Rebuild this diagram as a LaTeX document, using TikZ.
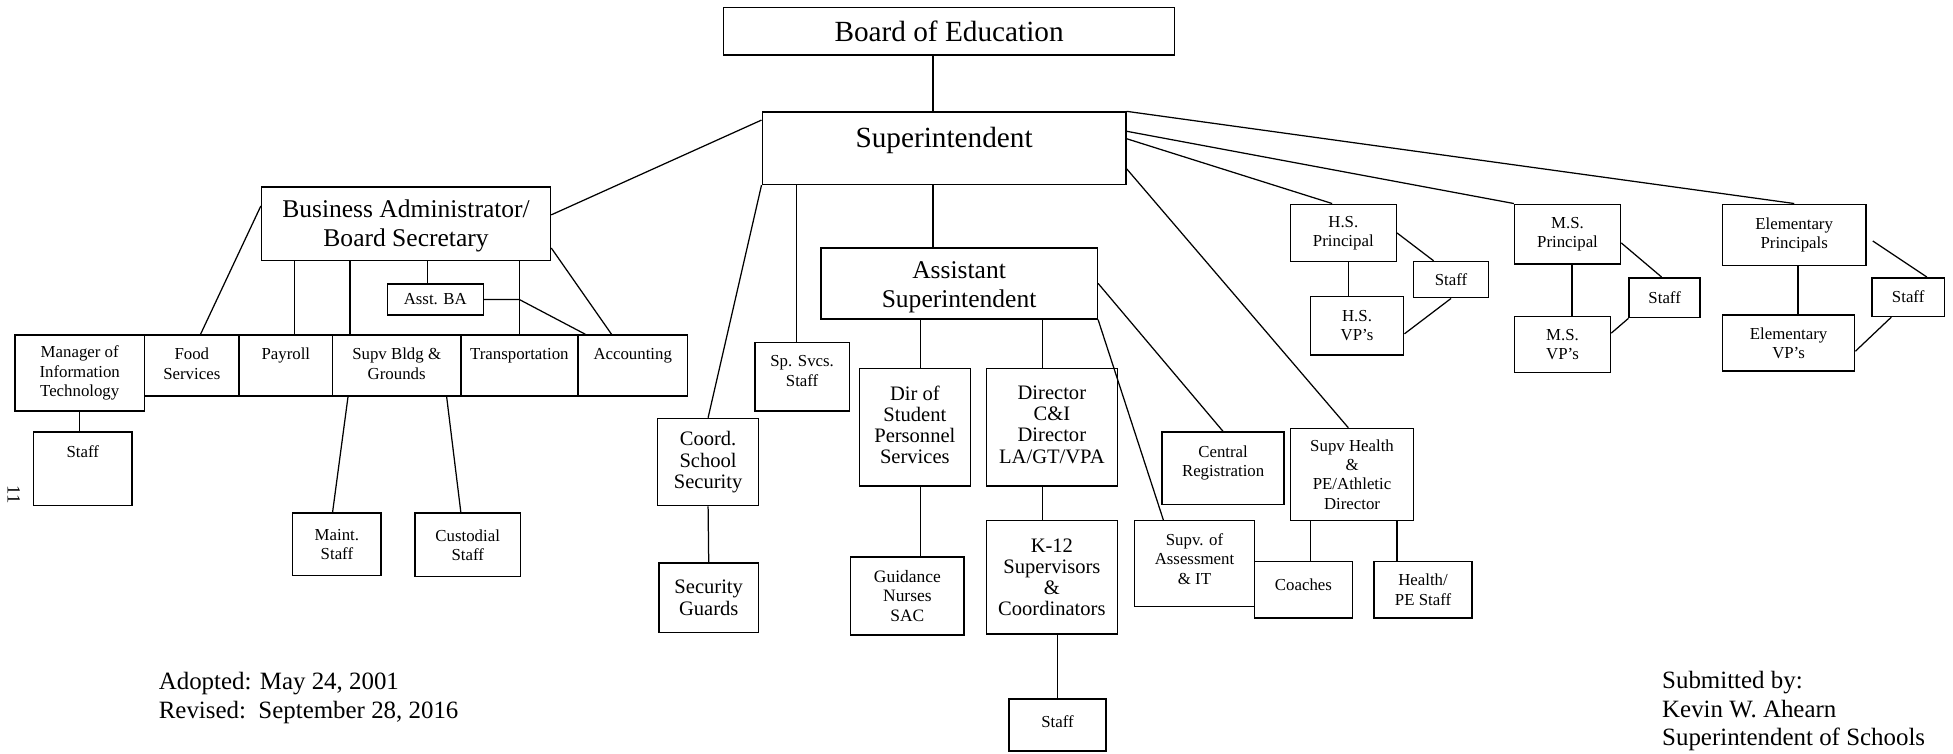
\documentclass[tikz,border=0pt]{standalone}
\usepackage{fontspec}
\setmainfont{Liberation Serif}
\usetikzlibrary{fit,positioning}

\tikzset{
  box/.style={draw, line width=1.2pt, inner sep=0pt},
  txt/.style={inner sep=0pt, align=center},
  titletxt/.style={txt, font=\fontsize{23.5}{27}\selectfont},
  headtxt/.style={txt, font=\fontsize{20.5}{23}\selectfont},
  midtxt/.style={txt, font=\fontsize{16.5}{17}\selectfont},
  smalltxt/.style={txt, font=\fontsize{13.5}{15.5}\selectfont},
  foottxt/.style={font=\fontsize{20}{23}\selectfont},
  toptext/.style={label={[smalltxt, anchor=north, yshift=-11pt]north:{#1}}},
  link/.style={line width=1pt},
}

\begin{document}
\begin{tikzpicture}[x=1pt, y=-1pt]

    \fill[white] (0,0) rectangle (1568,605);
    \useasboundingbox (0,0) rectangle (1568,605);

    % top of the chart
    \node[box, fit={(581,6) (943,44)}] (board) {};
    \node[titletxt] (boardt) at (board.center) {Board of Education};
    \node[box, fit={(612,90) (904,148)}] (supt) {};
    \node[titletxt] (suptt) at ([yshift=6pt]supt.center) {Superintendent};

    % business office
    \node[box, fit={(210,150) (442,209)}] (busadm) {};
    \node[headtxt] (busadmt) at ([yshift=-2pt]busadm.center) {Business Administrator/\\Board Secretary};
    \node[box, fit={(311,228) (388,253)}] (asstba) {};
    \node[smalltxt] (asstbat) at (asstba.center) {Asst. BA};
    \node[box, fit={(12,269) (116,330)}] (mgrit) {};
    \node[smalltxt] (mgritt) at (mgrit.center) {Manager of\\Information\\Technology};
    \node[box, fit={(116,269) (192,318)}, toptext={Food\\Services}] (food) {};
    \node[box, fit={(192,269) (267,318)}, toptext={Payroll}] (payroll) {};
    \node[box, fit={(267,269) (370,318)}, toptext={Supv Bldg \&\\Grounds}] (bldg) {};
    \node[box, fit={(370,269) (464,318)}, toptext={Transportation}] (transp) {};
    \node[box, fit={(464,269) (552,318)}, toptext={Accounting}] (acct) {};
    \node[box, fit={(27,347) (106,406)}, toptext={Staff}] (itstaff) {};
    \node[box, fit={(235,412) (306,462)}] (maint) {};
    \node[smalltxt] (maintt) at (maint.center) {Maint.\\Staff};
    \node[box, fit={(333,412) (418,463)}] (custod) {};
    \node[smalltxt] (custodt) at (custod.center) {Custodial\\Staff};
    \node[rotate=-90, font=\fontsize{15}{15}\selectfont] (pgnum) at (11,397) {11};

    % security and special services
    \node[box, fit={(528,336) (609,406)}] (security) {};
    \node[midtxt] (securityt) at (security.center) {Coord.\\School\\Security};
    \node[box, fit={(529,452) (609,508)}] (guards) {};
    \node[midtxt] (guardst) at (guards.center) {Security\\Guards};
    \node[box, fit={(606,275) (682,330)}, toptext={Sp. Svcs.\\Staff}] (spsvcs) {};

    % assistant superintendent
    \node[box, fit={(659,199) (881,256)}] (asstsupt) {};
    \node[headtxt] (asstsuptt) at ([yshift=-3pt]asstsupt.center) {Assistant\\Superintendent};
    \node[box, fit={(690,296) (779,390)}] (studpers) {};
    \node[midtxt] (studperst) at ([yshift=2pt]studpers.center) {Dir of\\Student\\Personnel\\Services};
    \node[box, fit={(792,296) (897,390)}] (curric) {};
    \node[midtxt] (currict) at ([yshift=2pt]curric.center) {Director\\C\&I\\Director\\LA/GT/VPA};
    \node[box, fit={(683,447) (774,510)}] (guidance) {};
    \node[txt, font=\fontsize{14}{15.5}\selectfont] (guidancet) at (guidance.center) {Guidance\\Nurses\\SAC};
    \node[box, fit={(792,418) (897,509)}] (k12) {};
    \node[midtxt] (k12t) at (k12.center) {K-12\\Supervisors\\\&\\Coordinators};
    \node[box, fit={(810,561) (888,603)}] (k12staff) {};
    \node[smalltxt] (k12stafft) at ([yshift=3pt]k12staff.center) {Staff};
    \node[box, fit={(933,347) (1031,405)}, toptext={Central\\Registration}] (centreg) {};
    \node[box, fit={(911,418) (1007,487)}, toptext={Supv. of\\Assessment\\\& IT}] (assess) {};

    % health and athletics
    \node[box, fit={(1036,344) (1135,418)}] (health) {};
    \node[smalltxt] (healtht) at (health.center) {Supv Health\\\&\\PE/Athletic\\Director};
    \node[box, fit={(1007,451) (1086,496)}] (coaches) {};
    \node[smalltxt] (coachest) at ([yshift=4pt]coaches.center) {Coaches};
    \node[box, fit={(1103,451) (1182,496)}] (pestaff) {};
    \node[smalltxt] (pestafft) at (pestaff.center) {Health/\\PE Staff};

    % schools
    \node[box, fit={(1036,164) (1121,210)}] (hsprin) {};
    \node[smalltxt] (hsprint) at (hsprin.center) {H.S.\\Principal};
    \node[box, fit={(1135,210) (1195,239)}] (hsstaff) {};
    \node[smalltxt] (hsstafft) at (hsstaff.center) {Staff};
    \node[box, fit={(1052,238) (1127,285)}] (hsvp) {};
    \node[smalltxt] (hsvpt) at (hsvp.center) {H.S.\\VP's};
    \node[box, fit={(1216,164) (1301,212)}] (msprin) {};
    \node[smalltxt] (msprint) at (msprin.center) {M.S.\\Principal};
    \node[box, fit={(1308,223) (1365,255)}] (msstaff) {};
    \node[smalltxt] (msstafft) at (msstaff.center) {Staff};
    \node[box, fit={(1216,254) (1293,299)}] (msvp) {};
    \node[smalltxt] (msvpt) at (msvp.center) {M.S.\\VP's};
    \node[box, fit={(1383,164) (1498,213)}] (elprin) {};
    \node[smalltxt] (elprint) at (elprin.center) {Elementary\\Principals};
    \node[box, fit={(1503,223) (1561,254)}] (elstaff) {};
    \node[smalltxt] (elstafft) at (elstaff.center) {Staff};
    \node[box, fit={(1383,253) (1489,298)}] (elvp) {};
    \node[smalltxt] (elvpt) at (elvp.center) {Elementary\\VP's};

    % footer
    \node[foottxt, align=left, anchor=west] (dates) at (124,560.5) {Adopted: May 24, 2001\\Revised:\ \ September 28, 2016};
    \node[foottxt, align=left, anchor=west] (submit) at (1331,571) {Submitted by:\\Kevin W. Ahearn\\Superintendent of Schools};

    % connectors
    \draw[link] ([xshift=-9pt]supt.north) -- ([xshift=-9pt]supt.north |- board.south);
    \draw[link] ([yshift=-7pt]supt.north west) -- ([yshift=7pt]busadm.east);
    \draw[link] ([yshift=-16pt]busadm.north west) -- ([xshift=7pt]food.north);
    \draw[link] ([xshift=7pt]payroll.north) -- ([xshift=7pt]payroll.north |- busadm.south);
    \draw[link] ([xshift=-37.5pt]bldg.north) -- ([xshift=-37.5pt]bldg.north |- busadm.south);
    \draw[link] ([xshift=-6.5pt]asstba.north) -- ([xshift=-6.5pt]asstba.north |- busadm.south);
    \draw[link] (transp.north) -- (transp.north |- busadm.south);
    \draw[link] ([yshift=10.5pt]busadm.south east) -- ([xshift=-17pt]acct.north);
    \draw[link] (asstba.east) -- (transp.north |- asstba.east) -- ([xshift=-38pt]acct.north);
    \draw[link] (mgrit.south) -- (mgrit.south |- itstaff.north);
    \draw[link] ([xshift=13pt]bldg.south west) -- ([xshift=-3.5pt]maint.north);
    \draw[link] ([xshift=-12pt]bldg.south east) -- ([xshift=-5.5pt]custod.north);

    \draw[link] (supt.south west) -- (security.north);
    \draw[link] (security.south) -- (guards.north);
    \draw[link] ([xshift=28pt]supt.south west) -- ([xshift=28pt]supt.south west |- spsvcs.north);
    \draw[link] ([xshift=-9pt]supt.south) -- ([xshift=-9pt]supt.south |- asstsupt.north);

    \draw[link] ([xshift=4.5pt]studpers.north) -- ([xshift=4.5pt]studpers.north |- asstsupt.south);
    \draw[link] ([xshift=-7.5pt]curric.north) -- ([xshift=-7.5pt]curric.north |- asstsupt.south);
    \draw[link] ([xshift=4.5pt]studpers.south) -- ([xshift=4.5pt]studpers.south |- guidance.north);
    \draw[link] ([xshift=-7.5pt]curric.south) -- ([xshift=-7.5pt]curric.south |- k12.north);
    \draw[link] (k12staff.north) -- (k12staff.north |- k12.south);
    \draw[link] (asstsupt.east) -- (centreg.north);
    \draw[link] (asstsupt.south east) -- ([xshift=-25pt]assess.north);

    \draw[link] ([yshift=13pt]supt.south east) -- ([xshift=-3pt]health.north);
    \draw[link] ([xshift=-33.5pt]health.south) -- ([xshift=-33.5pt]health.south |- coaches.north);
    \draw[link] ([xshift=36pt]health.south) -- ([xshift=36pt]health.south |- pestaff.north);

    \draw[link] ([yshift=-22pt]supt.north east) -- ([xshift=-9pt]hsprin.north);
    \draw[link] ([yshift=-16pt]supt.north east) -- (msprin.north west);
    \draw[link] (supt.north east) -- (elprin.north);

    \draw[link] (hsprin.east) -- ([xshift=-14pt]hsstaff.north);
    \draw[link] ([xshift=4pt]hsprin.south) -- ([xshift=4pt]hsprin.south |- hsvp.north);
    \draw[link] ([yshift=-6.5pt]hsvp.east) -- (hsstaff.south);
    \draw[link] ([yshift=-7pt]msprin.east) -- ([xshift=-2.5pt]msstaff.north);
    \draw[link] ([xshift=3.5pt]msprin.south) -- ([xshift=3.5pt]msprin.south |- msvp.north);
    \draw[link] ([yshift=9pt]msvp.east) -- (msstaff.south west);
    \draw[link] ([xshift=5pt,yshift=-5pt]elprin.east) -- ([xshift=15pt]elstaff.north);
    \draw[link] ([xshift=3pt]elprin.south) -- ([xshift=3pt]elprin.south |- elvp.north);
    \draw[link] ([yshift=-6.5pt]elvp.east) -- ([xshift=-13.5pt]elstaff.south);

\end{tikzpicture}
\end{document}
